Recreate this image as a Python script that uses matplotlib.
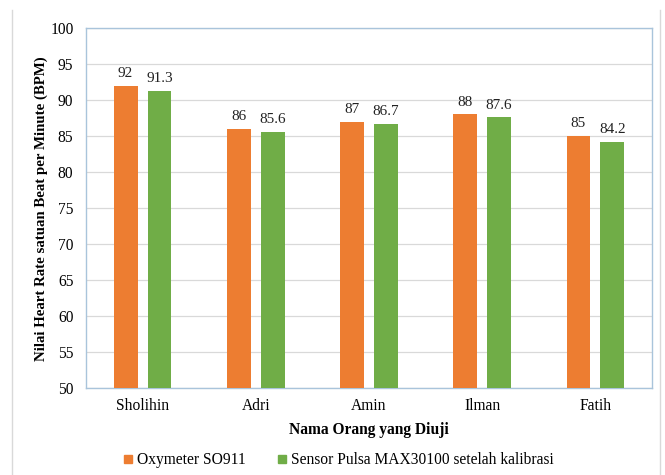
import matplotlib
matplotlib.use("Agg")
import matplotlib.pyplot as plt
import numpy as np
from matplotlib.lines import Line2D

names = ["Sholihin", "Adri", "Amin", "Ilman", "Fatih"]
oxymeter = [92, 86, 87, 88, 85]
sensor = [91.3, 85.6, 86.7, 87.6, 84.2]
series_labels = ["Oxymeter SO911", "Sensor Pulsa MAX30100 setelah kalibrasi"]
yticks = [50, 55, 60, 65, 70, 75, 80, 85, 90, 95, 100]

plt.rcParams['font.family'] = ['Liberation Serif', 'DejaVu Serif']

fig = plt.figure(figsize=(6.65, 4.75), dpi=100)
ax = fig.add_axes([86/665, 1-388/475, (652-86)/665, (388-28)/475])

x = np.arange(len(names))
w = 0.21
off = 0.15
orange = "#ED7D31"
green = "#70AD47"
b1 = ax.bar(x - off, oxymeter, w, color=orange, zorder=3)
b2 = ax.bar(x + off, sensor, w, color=green, zorder=3)
for rects, vals in ((b1, oxymeter), (b2, sensor)):
    for r, v in zip(rects, vals):
        ax.text(r.get_x() + r.get_width()/2, v + 0.8, f"{v:g}", ha="center", va="bottom",
                fontsize=11, color="#222222")

ax.set_ylim(50, 100)
ax.set_xlim(-0.5, len(names) - 0.5)
ax.set_yticks(yticks)
ax.set_xticks(x)
ax.set_xticklabels(names, fontsize=11.2)
ax.tick_params(axis='y', labelsize=11.2, length=0, pad=9)
ax.tick_params(axis='x', length=0, pad=7)
ax.grid(axis='y', color="#D9D9D9", linewidth=0.9, zorder=0)
for s in ax.spines.values():
    s.set_color("#A9C4DB")
    s.set_linewidth(1.0)

ax.set_xlabel("Nama Orang yang Diuji", fontsize=11.2, fontweight='bold', labelpad=6)
ax.set_ylabel("Nilai Heart Rate satuan Beat per Minute (BPM)", fontsize=10.7,
              fontweight='bold')
ax.yaxis.set_label_coords(-0.067, 0.497)

handles = [Line2D([], [], marker='s', linestyle='none', color=orange, markersize=6),
           Line2D([], [], marker='s', linestyle='none', color=green, markersize=6)]
fig.legend(handles, series_labels, loc='center', bbox_to_anchor=(338/665, 1-460/475),
           ncol=2, frameon=False, prop={'family': 'Liberation Serif', 'size': 11.2},
           handletextpad=0.2, columnspacing=2.0, handlelength=0.7)

# outer chart frame lines
fig.add_artist(Line2D([12/665, 12/665], [0, 1-10/475], transform=fig.transFigure,
                      color="#D9D9D9", linewidth=1))
fig.add_artist(Line2D([660/665, 660/665], [0, 1-10/475], transform=fig.transFigure,
                      color="#D9D9D9", linewidth=1))

fig.savefig("out.png", dpi=100)
